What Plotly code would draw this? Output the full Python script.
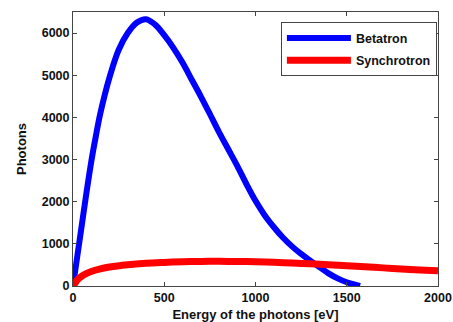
import plotly.graph_objects as go

# Betatron spectrum (eV, photons)
beta_x = [0, 25, 50, 75, 100, 125, 150, 200, 250, 300, 350, 400, 450, 500, 550, 600,
          650, 700, 750, 800, 850, 900, 950, 1000, 1050, 1100, 1150, 1200, 1250, 1300,
          1350, 1400, 1450, 1500, 1550, 1573]
beta_y = [0, 750, 1500, 2250, 2950, 3550, 4100, 4950, 5600, 6000, 6250, 6330, 6200, 5950,
          5650, 5300, 4900, 4500, 4080, 3650, 3250, 2850, 2420, 2020, 1680, 1400, 1150,
          940, 760, 600, 450, 300, 180, 90, 25, 0]

# Synchrotron spectrum (eV, photons)
sync_x = [0, 10, 25, 50, 75, 100, 150, 200, 300, 400, 500, 600, 700, 800, 900, 1000,
          1100, 1200, 1300, 1400, 1500, 1600, 1700, 1800, 1900, 2000]
sync_y = [0, 60, 150, 240, 300, 345, 405, 450, 505, 540, 560, 575, 583, 585, 582, 575,
          562, 545, 525, 503, 480, 455, 430, 405, 380, 360]

x_ticks = [0, 500, 1000, 1500, 2000]
y_ticks = [0, 1000, 2000, 3000, 4000, 5000, 6000]

FONT = "Liberation Sans"
AX = "#444444"

fig = go.Figure()
fig.add_trace(go.Scatter(x=beta_x, y=beta_y, mode="lines", name="Betatron",
                         line=dict(color="#0000FF", width=6, shape="spline", smoothing=1),
                         legendgroup="a"))
fig.add_trace(go.Scatter(x=sync_x, y=sync_y, mode="lines", name="Synchrotron",
                         line=dict(color="#FF0000", width=7, shape="spline", smoothing=1),
                         legendgroup="b"))

axis_common = dict(showline=True, linecolor=AX, linewidth=1, mirror="allticks",
                   ticks="inside", ticklen=4, tickcolor=AX, showgrid=False,
                   zeroline=False, automargin=False,
                   tickfont=dict(family=FONT, size=12.5, color="#111", weight="bold"))

fig.update_xaxes(range=[0, 2000], tickvals=x_ticks, ticktext=[str(v) for v in x_ticks],
                 title=dict(text="Energy of the photons [eV]", standoff=7,
                            font=dict(family=FONT, size=13, color="#111", weight="bold")),
                 **axis_common)
fig.update_yaxes(range=[0, 6500], tickvals=y_ticks, ticktext=[str(v) for v in y_ticks],
                 title=dict(text="Photons", standoff=12,
                            font=dict(family=FONT, size=13, color="#111", weight="bold")),
                 **axis_common)

fig.update_layout(
    width=453, height=322,
    margin=dict(l=73, r=15, t=12, b=36),
    paper_bgcolor="white", plot_bgcolor="white",
    showlegend=True,
    legend=dict(x=0.997, y=0.962, xanchor="right", yanchor="top",
                bordercolor=AX, borderwidth=1, bgcolor="white",
                itemwidth=64, tracegroupgap=3, traceorder="grouped",
                font=dict(family=FONT, size=12.5, color="#111", weight="bold")),
)

fig.write_html(
    "out.html",
    config={"displayModeBar": False},
    post_script="document.body.style.margin='0';document.body.style.overflow='hidden';",
)
